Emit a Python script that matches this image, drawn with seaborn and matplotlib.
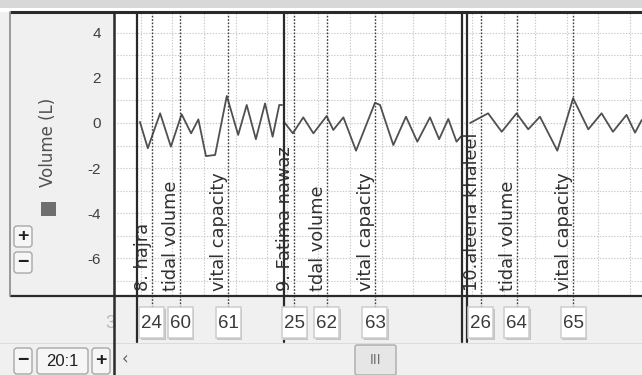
import numpy as np
import pandas as pd
import matplotlib
matplotlib.use('Agg')
import matplotlib.pyplot as plt
import matplotlib.transforms as mtransforms
from matplotlib.patches import Rectangle, FancyBboxPatch
import seaborn as sns

# --- data (time in s, volume in L) ---
block1_t = [8.2, 10.7, 14.6, 18.0, 21.4, 24.4, 26.7, 29.1, 32.0, 35.7, 39.3, 42.0, 44.9, 47.8, 50.2, 52.3, 53.2]
block1_v = [0.05, -1.12, 0.43, -1.05, 0.39, -0.46, 0.16, -1.47, -1.42, 1.2, -0.53, 0.8, -0.72, 0.87, -0.61, 0.8, 0.8]
block2_t = [54.1, 56.6, 59.9, 63.1, 67.3, 69.4, 72.6, 76.6, 82.6, 84.2, 88.4, 92.4, 96.0, 100.0, 102.9, 105.8, 108.4, 109.8]
block2_v = [0.0, -0.46, 0.25, -0.46, 0.31, -0.31, 0.25, -1.23, 0.9, 0.8, -0.98, 0.28, -0.83, 0.25, -0.72, 0.18, -0.83, -0.6]
block3_t = [112.7, 118.4, 122.7, 127.4, 131.1, 134.8, 140.3, 145.3, 150.1, 154.3, 157.9, 162.2, 164.9, 167.0]
block3_v = [0.0, 0.43, -0.39, 0.43, -0.28, 0.28, -1.23, 1.1, -0.28, 0.43, -0.39, 0.36, -0.43, 0.13]

block_lines = [7.3, 53.8, 110.1, 111.7]
grid_start = [8.5, 54.7, 113.3]
grid_end = [53.8, 110.1, 167.1]

comment_t = [12.0, 20.9, 36.1, 57.0, 67.4, 82.6, 116.1, 127.5, 145.3]
comment_text = ['8. hajra', 'tidal volume', 'vital capacity',
                '9. Fatima nawaz', 'tdal volume', 'vital capacity',
                '10.aleena khaleel', 'tidal volume', 'vital capacity']
comment_num = ['24', '60', '61', '25', '62', '63', '26', '64', '65']

y_major = [4, 2, 0, -2, -4, -6]
y_minor = [3, 1, -1, -3, -5, -7]
y_labels = ['4', '2', '0', '-2', '-4', '-6']

df = pd.DataFrame({
    't': block1_t + block2_t + block3_t,
    'v': block1_v + block2_v + block3_v,
    'block': [1] * len(block1_t) + [2] * len(block2_t) + [3] * len(block3_t),
})

# --- layout in screen pixels ---
W, H = 642, 375
AX_L, AX_R, AX_T, AX_B = 114, 642, 12, 295
XMAX = 167.1
YLIM = (-7.64, 4.93)
PX_PER_S = (AX_R - AX_L) / XMAX

sns.set_style('white')
plt.rcParams['font.family'] = ['DejaVu Sans']
NARROW = ['Liberation Sans Narrow', 'Liberation Sans', 'DejaVu Sans']
GRAY_BG = '#f0f0f0'
DARK = '#2a2a2a'


def ay(py):
    # screen pixel row -> axes fraction of the plot area
    return (AX_B - py) / (AX_B - AX_T)


fig = plt.figure(figsize=(W / 100, H / 100), dpi=100)
fig.patch.set_facecolor(GRAY_BG)

# background chrome
bg = fig.add_axes([0, 0, 1, 1], zorder=0)
bg.set_xlim(0, W)
bg.set_ylim(H, 0)
bg.axis('off')
bg.add_patch(Rectangle((0, 0), W, 8, color='#d8d8d8', lw=0))
bg.add_patch(Rectangle((0, 8), W, 3.5, color='white', lw=0))
bg.add_patch(Rectangle((0, 343), W, 1, color='#dcdcdc', lw=0))

# main plot area
ax = fig.add_axes([AX_L / W, (H - AX_B) / H, (AX_R - AX_L) / W, (AX_B - AX_T) / H], zorder=1)
ax.set_facecolor('white')
sns.lineplot(data=df, x='t', y='v', units='block', estimator=None, sort=False,
             color='#505050', lw=1.3, ax=ax)
ax.set_xlim(0, XMAX)
ax.set_ylim(*YLIM)
ax.set_xlabel('')
ax.set_ylabel('')

grid_ticks = np.concatenate([np.arange(s, e, 10) for s, e in zip(grid_start, grid_end)])
ax.set_xticks(grid_ticks)
ax.set_yticks(y_major)
ax.set_yticks(y_minor, minor=True)
ax.set_yticklabels(y_labels, family=NARROW, fontsize=11, color='#404040')
ax.tick_params(axis='x', direction='out', length=3.8, width=1.2, color='#303030',
               labelbottom=False)
ax.tick_params(axis='y', which='major', direction='out', length=6, width=1.0,
               color='#404040', pad=3.5)
ax.tick_params(axis='y', which='minor', direction='out', length=3.6, width=1.0,
               color='#404040')
ax.grid(True, which='both', axis='y', ls=(0, (1.2, 1.4)), color='#c8c8c8', lw=0.8)
ax.grid(True, which='major', axis='x', ls=(0, (1.2, 1.4)), color='#c8c8c8', lw=0.8)
for side in ['top', 'right', 'bottom']:
    ax.spines[side].set_visible(False)
ax.spines['left'].set_color(DARK)
ax.spines['left'].set_linewidth(1.8)

trans = mtransforms.blended_transform_factory(ax.transData, ax.transAxes)

# block boundaries
for t in block_lines:
    ax.axvline(t, ymin=ay(342), ymax=1, color=DARK, lw=1.6, clip_on=False, zorder=5)

# comment markers, labels and number boxes
box_w = 25 / PX_PER_S
box_h = ay(307) - ay(338)
for t, txt, num in zip(comment_t, comment_text, comment_num):
    ax.axvline(t, ymin=ay(307), ymax=1, color='#3a3a3a', lw=1.0,
               ls=(0, (1.2, 1.2)), clip_on=False, zorder=4)
    ax.text(t, ay(291), txt, rotation=90, ha='right', va='bottom', fontsize=12.8,
            color='#303030', transform=trans, zorder=6)
    ax.add_patch(Rectangle((t - box_w / 2 + 0.5, ay(338) - 0.006), box_w, box_h,
                           transform=trans, clip_on=False, fc='#c4c4c4', lw=0, zorder=6))
    ax.add_patch(Rectangle((t - box_w / 2, ay(338)), box_w, box_h, transform=trans,
                           clip_on=False, fc='white', ec='#cdcdcd', lw=1.1, zorder=7))
    ax.text(t, ay(323), num, ha='center', va='center', family=NARROW, fontsize=13.5,
            color='#3a3a3a', transform=trans, clip_on=False, zorder=8)
ax.text(-1.0, ay(323), '3', ha='center', va='center', family=NARROW, fontsize=13.5,
        color='#b8b8b8', transform=trans, clip_on=False)

# overlay chrome: frame lines, legend, buttons, scrollbar
ui = fig.add_axes([0, 0, 1, 1], zorder=2)
ui.set_xlim(0, W)
ui.set_ylim(H, 0)
ui.axis('off')
ui.patch.set_alpha(0)
ui.plot([10, W], [11.5, 11.5], color=DARK, lw=2.2, solid_capstyle='butt')
ui.plot([10, W], [295.5, 295.5], color=DARK, lw=1.6, solid_capstyle='butt')
ui.plot([10, 10], [11.5, 295.5], color='#8a8a8a', lw=1.2)
ui.plot([113.5, 113.5], [295, H], color=DARK, lw=1.8)

ui.text(48, 142, 'Volume (L)', rotation=90, ha='center', va='center', fontsize=12,
        color='#505050')
ui.add_patch(Rectangle((41, 202), 15, 14, color='#6e6e6e', lw=0))


def button(x0, y0, w, h, label, fs=14, weight='bold'):
    ui.add_patch(FancyBboxPatch((x0, y0), w, h, boxstyle='round,pad=0,rounding_size=3',
                                fc='#f6f6f6', ec='#a8a8a8', lw=1.0))
    ui.text(x0 + w / 2, y0 + h / 2, label, ha='center', va='center', fontsize=fs,
            fontweight=weight, color='#202020', family=NARROW)


button(14, 226, 18, 21, '+')
button(14, 252, 18, 21, '\u2212')
button(14, 348, 18, 26, '\u2212')
button(37, 348, 51, 26, '20:1', fs=12, weight='normal')
button(92, 348, 18, 26, '+')

ui.text(125, 359, '\u2039', ha='center', va='center', fontsize=12, color='#606060')
ui.add_patch(FancyBboxPatch((355, 345), 41, 30, boxstyle='round,pad=0,rounding_size=2',
                            fc='#e6e6e6', ec='#ababab', lw=1.0))
ui.text(375.5, 360, 'III', ha='center', va='center', fontsize=10, color='#707070',
        family=NARROW)

fig.savefig('out.png', dpi=100, facecolor=fig.get_facecolor())
